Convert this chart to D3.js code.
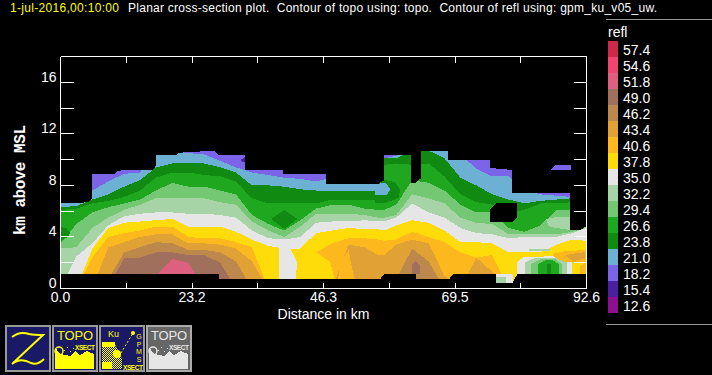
<!DOCTYPE html>
<html>
<head>
<meta charset="utf-8">
<script src="https://d3js.org/d3.v7.min.js"></script>
<style>
  html, body { margin: 0; padding: 0; background: #000; }
  svg { display: block; }
  text { font-family: "Liberation Sans", sans-serif; fill: #fff; white-space: pre; }
  .fill { shape-rendering: crispEdges; }
</style>
</head>
<body>
<div id="chart"></div>
<script>
// colour table
const legendLevels = [57.4, 54.6, 51.8, 49.0, 46.2, 43.4, 40.6, 37.8, 35.0, 32.2, 29.4, 26.6, 23.8, 21.0, 18.2, 15.4, 12.6];
const legendColors = ['#cd2a4a', '#f0456e', '#de6080', '#a0705c', '#bd884b', '#e0a235', '#fdb81e', '#fddc0a',
  '#e6e6e6', '#a6d4a6', '#74c874', '#1fa81f', '#108a10', '#6cb0d4', '#7b64e8', '#4a1fa0', '#8c1090'];

// ticks
const xTicks = [0, 11.58, 23.15, 34.73, 46.3, 57.88, 69.45, 81.03, 92.6];
const xTickLabels = ['0.0', '', '23.2', '', '46.3', '', '69.5', '', '92.6'];
const yTicks = [0, 2, 4, 6, 8, 10, 12, 14, 16];
const yTickLabels = ['0', '', '4', '', '8', '', '12', '', '16'];

// distance columns (km) shared by the contour tops below
const distKm = [0, 2.8, 5.6, 8.4, 11.2, 14, 16.8, 19.7, 22.5, 25.3, 28.1, 30.9, 33.7, 36.6, 39.4, 42.2, 45, 47.8,
  50.7, 53.5, 55.9, 57, 59.1, 61.9, 64.8, 67.6, 70.4, 73.2, 76, 78.9, 81.7, 84.5, 87.3, 90.1, 92.6];

// top of each reflectivity band, km above MSL
const top21 = [7.3, 7.3, 7.6, 8.3, 8.9, 9.0, 10.7, 10.7, 10.5, 10.4, 9.9, 9.4, 9.0, 8.8, 8.6, 8.5, 8.3, 8.6,
  8.8, 8.8, 8.8, 10.1, 10.3, 10.7, 11.1, 10.7, 10.4, 9.3, 8.7, 8.7, 7.6, 7.3, 7.2, 7.1, 7.1];
const top238 = [6.3, 6.4, 6.9, 7.3, 7.9, 8.4, 9.4, 9.7, 9.7, 9.7, 9.4, 9.0, 8.0, 8.0, 7.9, 7.7, 7.6, 7.6,
  7.6, 7.6, 7.6, 10.1, 10.1, 10.7, 10.7, 10.1, 8.6, 8.0, 7.3, 6.9, 6.6, 6.8, 6.9, 7.0, 7.0];
const top266 = [6.1, 6.2, 6.6, 6.8, 7.1, 7.6, 8.6, 9.0, 9.0, 8.8, 8.7, 8.3, 7.0, 6.6, 6.6, 6.6, 6.6, 6.9,
  6.9, 6.9, 6.9, 9.6, 9.7, 9.6, 9.7, 8.7, 7.3, 6.7, 6.5, 5.9, 6.1, 6.6, 6.6, 6.7, 6.7];
const top294 = [3.5, 5.0, 5.9, 6.3, 6.6, 6.9, 7.6, 8.2, 7.9, 7.9, 7.6, 7.3, 5.7, 5.0, 4.5, 5.3, 6.2, 6.5,
  6.5, 6.2, 6.1, 6.1, 6.5, 8.4, 8.2, 7.6, 6.5, 5.9, 5.9, 4.7, 4.4, 4.9, 6.1, 6.1, 6.1];
const top322 = [3.1, 3.2, 4.7, 5.5, 6.1, 6.5, 7.0, 7.0, 7.0, 7.0, 6.7, 6.5, 5.2, 4.5, 4.0, 4.8, 5.8, 5.8,
  5.8, 5.7, 5.5, 5.5, 5.7, 7.3, 7.0, 6.6, 5.5, 5.1, 5.0, 4.2, 4.2, 4.2, 4.2, 4.4, 4.7];
const top35 = [0, 2.5, 3.5, 4.9, 5.6, 5.8, 5.9, 5.9, 5.8, 5.8, 5.7, 5.5, 4.5, 3.9, 3.8, 4.0, 5.1, 5.2,
  5.2, 5.3, 5.2, 5.2, 5.5, 6.6, 5.9, 5.5, 4.7, 4.3, 4.2, 3.9, 4.0, 4.0, 4.0, 4.3, 4.7];
const top378 = [0, 0, 3.1, 4.7, 5.1, 5.2, 5.3, 5.4, 4.8, 4.8, 4.8, 4.4, 3.8, 3.3, 3.1, 3.1, 4.3, 4.5,
  4.7, 4.6, 4.6, 4.5, 4.9, 5.3, 5.1, 4.5, 3.6, 3.6, 3.5, 2.8, 2.8, 2.8, 3.4, 3.8, 3.7];
const top406 = [0, 0, 2.4, 4.0, 4.3, 4.5, 4.8, 4.8, 4.0, 3.9, 3.9, 3.6, 3.2, 0, 0, 0, 2.8, 3.5,
  3.9, 3.9, 3.8, 3.7, 3.8, 4.4, 4.0, 3.6, 2.8, 2.4, 2.6, 0, 0, 0, 0, 0, 0];
const top434 = [0, 0, 0, 3.2, 3.6, 4.0, 4.2, 4.2, 3.5, 3.5, 3.4, 3.1, 2.1, 0, 0, 0, 0, 0,
  3.4, 3.2, 2.6, 2.6, 3.4, 3.8, 3.5, 1.0, 0, 2.4, 1.3, 0, 0, 0, 0, 0, 0];
const top462 = [0, 0, 0, 0.7, 2.8, 3.2, 3.6, 3.5, 3.0, 3.0, 2.8, 2.1, 0, 0, 0, 0, 0, 0,
  0, 0, 0, 0, 0.7, 3.1, 2.1, 0, 0, 0, 0, 0, 0, 0, 0, 0, 0];
const top49 = [0, 0, 0, 0, 2.4, 2.4, 2.8, 2.8, 2.6, 2.6, 2.0, 0, 0, 0, 0, 0, 0, 0,
  0, 0, 0, 0, 0, 0, 0, 0, 0, 0, 0, 0, 0, 0, 0, 0, 0];
const top518 = [0, 0, 0, 0, 0, 0, 1.0, 2.3, 2.0, 0, 0, 0, 0, 0, 0, 0, 0, 0,
  0, 0, 0, 0, 0, 0, 0, 0, 0, 0, 0, 0, 0, 0, 0, 0, 0];

// closed cells that do not fit in the stacked bands: [dBZ level, km list, height list]
const cells = [
  [23.8, [0, 1.0, 1.7, 1.3, 0], [4.77, 4.69, 4.31, 4.0, 3.76]],
  [23.8, [37.1, 39.4, 41.7, 39.4], [5.39, 6.09, 5.39, 4.62]],
  [23.8, [55.4, 57, 58.9, 59.8, 59.5, 57.2, 55.4], [8.42, 8.42, 8.26, 7.64, 7.02, 6.63, 6.63]],
  [21.0, [55.4, 57.2, 58.1, 57.4, 55.4], [8.11, 8.19, 7.72, 7.25, 7.25]],
  [15.4, [31.6, 32.5, 32.5, 32], [9.97, 10.2, 9.81, 9.81]],
  [35.0, [38.5, 40.4, 41.7, 41.3, 38.5], [3.14, 3.14, 1.98, 0.5, 0.5]],
  [37.8, [42.2, 48.4, 47.5, 44.5, 42.2], [0.5, 0.5, 2.05, 2.98, 2.98]],
  [40.6, [48.8, 49.3, 50.7, 51.1, 51.9], [0.5, 2.05, 2.98, 2.05, 0.5]],
  [49.0, [61.8, 61.8, 62.5, 63.3, 63.3], [1.12, 1.82, 2.13, 1.82, 1.12]],
  [32.2, [85.5, 87.3, 89.8, 89.8, 87.3, 85.9], [5.39, 5.55, 5.55, 4.54, 4.69, 4.85]],
  [32.2, [82.4, 86.1, 86.1, 82.4], [3.06, 3.06, 2.9, 2.9]],
  [35.0, [76.7, 79.6, 79.6, 76.7], [1.12, 1.12, 0.4, 0.4]],
  [32.2, [76.7, 78.5, 78.5, 76.7], [0.89, 0.89, 0.4, 0.4]],
  [35.0, [80.4, 80.4, 81.5, 88.4, 90, 90], [1.12, 2.05, 2.44, 2.52, 2.37, 1.12]],
  [32.2, [81.8, 81.8, 83.6, 87.7, 89.1, 89.1], [1.12, 2.05, 2.37, 2.37, 2.05, 1.12]],
  [29.4, [82.9, 82.9, 84.5, 87.1, 88.2, 88.2], [1.12, 1.9, 2.29, 2.29, 1.9, 1.12]],
  [26.6, [84.1, 84.1, 85.4, 86.6, 87.7, 87.7], [1.12, 1.9, 2.21, 2.21, 1.9, 1.12]],
  [23.8, [85.7, 85.7, 86.4, 86.4], [1.12, 1.9, 1.9, 1.12]],
  [40.6, [86.6, 88.9, 92.6, 92.6, 88.9, 87.1], [2.68, 2.91, 2.98, 1.98, 2.05, 2.37]],
  [43.4, [88.9, 92.4, 92.4, 90.1], [2.6, 2.83, 2.29, 2.13]],
  [40.6, [91.5, 92.6, 92.6, 91.5], [1.75, 2.05, 1.12, 1.12]]
];

// upper edge of the data coverage
const coverTopKm = [0, 3.44, 4.85, 5.55, 5.55, 9.6, 9.96, 11.37, 14, 16.3, 16.83, 16.83, 20.35, 20.7, 22.29, 27.05,
  27.75, 32.5, 32.5, 39.2, 39.2, 46.78, 46.78, 55.95, 56.3, 57, 57, 61.76, 61.76, 62.47, 63, 63.52, 63.52, 68.28,
  68.28, 75.68, 75.68, 79.56, 79.56, 89.78, 89.78, 91.54, 92.6];
const coverTopH = [6.63, 6.63, 6.71, 7.02, 8.88, 8.88, 9.12, 9.19, 9.19, 9.19, 9.58, 10.36, 10.36, 10.51, 10.59, 10.67,
  10.36, 10.36, 9.19, 9.19, 8.88, 8.88, 8.11, 8.11, 8.26, 8.34, 10.36, 10.36, 8.19, 8.19, 8.42, 8.57, 10.67, 10.67,
  9.97, 9.97, 9.35, 9.19, 7.41, 7.41, 4.54, 4.54, 4.85];
// lower edge of the data coverage
const coverBottomKm = [0, 27.93, 27.93, 56.3, 57, 62.64, 62.64, 68.45, 69.16, 76.74, 76.74, 79.56, 80.44, 92.6];
const coverBottomH = [1.12, 1.12, 0.74, 0.74, 1.12, 1.12, 0.74, 0.74, 1.12, 1.12, 0.43, 0.43, 1.12, 1.12];
// no-data hole near 78 km
const holeKm = [75.68, 76.74, 80.44, 80.44, 79.56, 75.68];
const holeH = [6.17, 6.63, 6.63, 5.55, 5.16, 5.16];
// lone 18.2 dBZ echo above the coverage edge
const loneKm = [86.3, 87.1, 89.8, 89.8];
const loneH = [9.19, 9.58, 9.58, 9.19];

const width = 712, height = 375;
const svg = d3.select('#chart').append('svg').attr('width', width).attr('height', height);

const x = d3.scaleLinear().domain([0, 92.6]).range([60.5, 586.5]);
const y = d3.scaleLinear().domain([0, 18]).range([288.5, 56.5]);
const color = d3.scaleOrdinal(legendLevels, legendColors);

// title
svg.append('text').attr('x', 10).attr('y', 12).attr('font-size', 12).style('fill', '#ffff00')
  .attr('textLength', 109).text('1-jul-2016,00:10:00');
svg.append('text').attr('x', 128).attr('y', 12).attr('font-size', 12).attr('textLength', 529)
  .text('Planar cross-section plot.  Contour of topo using: topo.  Contour of refl using: gpm_ku_v05_uw.');

// contour bands, lowest level first
const plot = svg.append('g');
const bandArea = d3.area().x((d, i) => x(distKm[i])).y0(y(0)).y1(d => y(d));
const bands = [
  [18.2, distKm.map(() => 18)], [21.0, top21], [23.8, top238], [26.6, top266], [29.4, top294], [32.2, top322],
  [35.0, top35], [37.8, top378], [40.6, top406], [43.4, top434], [46.2, top462], [49.0, top49], [51.8, top518]
];
bands.forEach(([level, tops]) => {
  plot.append('path').attr('class', 'fill').attr('fill', color(level)).attr('d', bandArea(tops));
});

const ring = d3.line().x(d => x(d[0])).y(d => y(d[1]));
const polygon = (kms, hs) => ring(kms.map((k, i) => [k, hs[i]])) + 'Z';
cells.forEach(([level, kms, hs]) => {
  plot.append('path').attr('class', 'fill').attr('fill', color(level)).attr('d', polygon(kms, hs));
});

// black out everything outside the data coverage
const topMask = d3.area().x(d => x(d[0])).y0(y(18)).y1(d => y(d[1]));
const bottomMask = d3.area().x(d => x(d[0])).y0(y(0)).y1(d => y(d[1]));
plot.append('path').attr('class', 'fill').attr('fill', '#000')
  .attr('d', topMask(coverTopKm.map((k, i) => [k, coverTopH[i]])));
plot.append('path').attr('class', 'fill').attr('fill', '#000')
  .attr('d', bottomMask(coverBottomKm.map((k, i) => [k, coverBottomH[i]])));
plot.append('path').attr('class', 'fill').attr('fill', '#000').attr('d', polygon(holeKm, holeH));
plot.append('path').attr('class', 'fill').attr('fill', color(18.2)).attr('d', polygon(loneKm, loneH));

// axes
const axes = svg.append('g');
const xAxis = d3.axisBottom(x).tickValues(xTicks).tickSizeInner(-6).tickSizeOuter(0).tickPadding(4).offset(0)
  .tickFormat((d, i) => xTickLabels[i]);
const yAxis = d3.axisLeft(y).tickValues(yTicks).tickSizeInner(-13).tickSizeOuter(0).tickPadding(4).offset(0)
  .tickFormat((d, i) => yTickLabels[i]);
const xTop = d3.axisTop(x).tickValues(xTicks).tickSizeInner(-6).tickSizeOuter(0).offset(0).tickFormat('');
const yRight = d3.axisRight(y).tickValues(yTicks).tickSizeInner(-13).tickSizeOuter(0).offset(0).tickFormat('');

axes.append('g').attr('transform', `translate(0,${y(0)})`).call(xAxis);
axes.append('g').attr('transform', `translate(${x(0)},0)`).call(yAxis);
axes.append('g').attr('transform', `translate(0,${y(18)})`).call(xTop);
axes.append('g').attr('transform', `translate(${x(92.6)},0)`).call(yRight);
axes.selectAll('path.domain').attr('stroke', '#fff').attr('shape-rendering', 'crispEdges');
axes.selectAll('line').attr('stroke', '#fff').attr('shape-rendering', 'crispEdges');
axes.selectAll('text').attr('font-size', 14).attr('font-family', '"Liberation Sans", sans-serif').style('fill', '#fff');
axes.selectAll('.tick text').filter(function () { return this.getAttribute('dy') === '0.32em'; }).attr('dy', '-0.04em');

svg.append('text').attr('x', 323.5).attr('y', 319).attr('text-anchor', 'middle').attr('font-size', 14).text('Distance in km');
svg.append('text').attr('transform', 'translate(25,180) rotate(-90)').attr('text-anchor', 'middle')
  .attr('font-size', 16).attr('font-weight', 'bold').attr('textLength', 110)
  .style('font-family', '"Liberation Mono", monospace').text('km above MSL');

// legend
const legend = svg.append('g');
const legendY = d3.scaleBand().domain(legendLevels).range([41, 313]);
legend.append('line').attr('x1', 606).attr('x2', 712).attr('y1', 19.5).attr('y2', 19.5).attr('stroke', '#999');
legend.append('line').attr('x1', 606).attr('x2', 712).attr('y1', 324.5).attr('y2', 324.5).attr('stroke', '#999');
legend.append('text').attr('x', 608).attr('y', 37).attr('font-size', 14).text('refl');
legend.selectAll('rect').data(legendLevels).enter().append('rect')
  .attr('x', 608).attr('width', 10)
  .attr('y', d => legendY(d)).attr('height', legendY.bandwidth())
  .attr('fill', d => color(d));
legend.selectAll('text.lab').data(legendLevels).enter().append('text').attr('class', 'lab')
  .attr('x', 623).attr('y', d => legendY(d) + 14).attr('font-size', 14)
  .text(d => d.toFixed(1));

// dither used on the satellite button
const dither = svg.append('defs').append('pattern').attr('id', 'dither')
  .attr('width', 2).attr('height', 2).attr('patternUnits', 'userSpaceOnUse');
dither.append('rect').attr('width', 1).attr('height', 1).attr('fill', '#ffff00');
dither.append('rect').attr('x', 1).attr('y', 1).attr('width', 1).attr('height', 1).attr('fill', '#ffff00');

// map control buttons
function button(left, bg, border) {
  const g = svg.append('g').attr('transform', `translate(${left},325)`);
  g.append('rect').attr('x', 1).attr('y', 1).attr('width', 44).attr('height', 45)
    .attr('fill', bg).attr('stroke', border).attr('stroke-width', 2);
  return g;
}
function topoIcon(g, ink) {
  g.append('path').attr('fill', ink).attr('class', 'fill')
    .attr('d', 'M3,44V22L8,29L18,31L23,26L28,30L35,26L42,29V44Z');
  g.append('circle').attr('cx', 7).attr('cy', 26).attr('r', 4).attr('fill', 'none').attr('stroke', ink).attr('stroke-width', 1.5);
  g.selectAll('rect.dot').data([[12, 25], [15, 22], [18, 26], [21, 23]]).enter().append('rect').attr('class', 'dot')
    .attr('x', d => d[0]).attr('y', d => d[1]).attr('width', 1).attr('height', 1).attr('fill', ink);
  g.append('text').attr('x', 5).attr('y', 15).attr('font-size', 13).attr('textLength', 36).style('fill', ink).text('TOPO');
  g.append('text').attr('x', 23).attr('y', 25).attr('font-size', 6.5).attr('font-weight', 'bold')
    .attr('textLength', 20).style('fill', ink).text('XSECT');
}

const zBtn = button(5, '#191966', '#999');
zBtn.append('path').attr('fill', 'none').attr('stroke', '#ffff00').attr('stroke-width', 2)
  .attr('d', 'M7,12C12,8 18,7 24,9C29,10 33,10 38,10L7,39C13,34 19,34 26,38C31,40 35,38 39,34');

topoIcon(button(52, '#191966', '#999'), '#ffff00');

const gpmBtn = button(99, '#191966', '#999');
gpmBtn.append('text').attr('x', 9).attr('y', 12).attr('font-size', 9).style('fill', '#ffff00').text('Ku');
gpmBtn.append('path').attr('fill', 'url(#dither)').attr('d', 'M3,44V17H15L23,34V44Z');
gpmBtn.append('rect').attr('x', 3).attr('y', 17).attr('width', 13).attr('height', 5).attr('fill', '#ffff00');
gpmBtn.append('circle').attr('cx', 18).attr('cy', 29).attr('r', 4).attr('fill', '#ffff00');
gpmBtn.append('rect').attr('x', 3).attr('y', 37).attr('width', 10).attr('height', 7).attr('fill', '#ffff00');
gpmBtn.append('path').attr('stroke', '#ffff00').attr('stroke-width', 1).attr('stroke-dasharray', '2 2').attr('d', 'M22,28L34,8');
gpmBtn.append('circle').attr('cx', 34).attr('cy', 8).attr('r', 2).attr('fill', '#ffff00');
['G', 'P', 'M', 'S'].forEach((c, i) => {
  gpmBtn.append('text').attr('x', 40).attr('y', 14 + i * 7.5).attr('font-size', 7).attr('text-anchor', 'middle').style('fill', '#ffff00').text(c);
});
gpmBtn.append('text').attr('x', 24).attr('y', 45).attr('font-size', 6.5).attr('font-weight', 'bold')
  .attr('textLength', 20).style('fill', '#ffff00').text('XSECT');

topoIcon(button(146, '#666', '#aaa'), '#e6e6e6');
</script>
</body>
</html>
